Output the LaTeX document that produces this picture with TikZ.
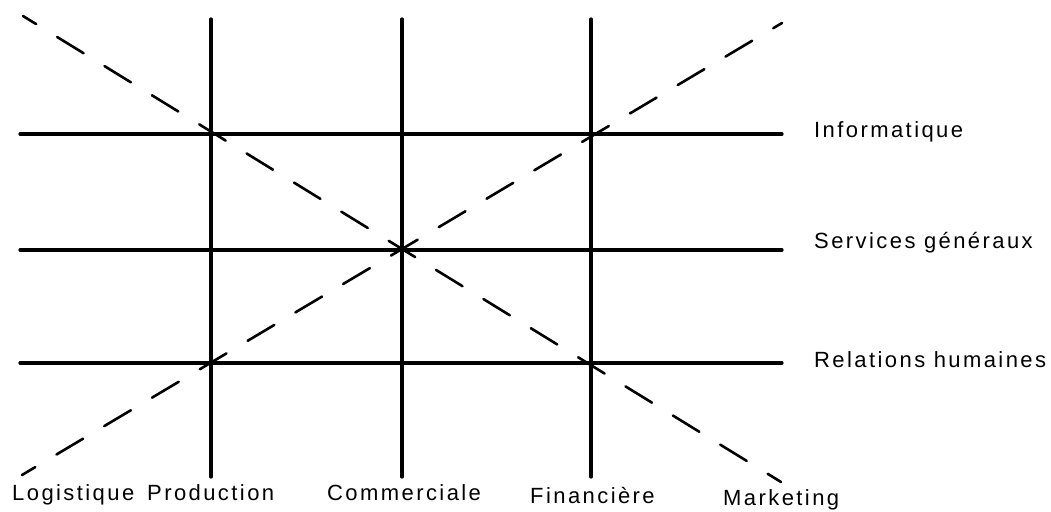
\documentclass[tikz,border=0pt]{standalone}
\usepackage{fontspec}
\setmainfont{Liberation Sans}[LetterSpace=11]
\usepackage{tikz}
\usetikzlibrary{calc}

\begin{document}
\begin{tikzpicture}[x=1pt, y=-1pt, line cap=round, line join=round,
  gridline/.style={line width=3.2pt},
  diagline/.style={line width=2.6pt, dash pattern=on 31pt off 24.6pt, dash phase=15.5pt},
  lab/.style={font=\fontsize{22}{26}\selectfont, inner sep=0pt}]

  \useasboundingbox (0,0) rectangle (1051,511);

  \def\xL{20}    % left end of the rows
  \def\xR{782}   % right end of the rows
  \def\yT{19}    % top of the columns
  \def\yB{477}   % bottom of the columns

  % Key points
  \coordinate (C) at (402,249);
  \coordinate (dA) at (23,16);    % falling diagonal
  \coordinate (dB) at (781,482);
  \coordinate (aA) at (22,475);   % rising diagonal
  \coordinate (aB) at (782,23);

  % Rows (left to right)
  \foreach \y/\name in {134/info, 250/serv, 363/rh} {
    \coordinate (\name-w) at (\xL,\y);
    \coordinate (\name-e) at (\xR,\y);
    \draw[gridline] (\name-w) -- (\name-e);
  }

  % Columns (top to bottom)
  \foreach \x/\name in {211/prod, 402/comm, 591/fin} {
    \coordinate (\name-n) at (\x,\yT);
    \coordinate (\name-s) at (\x,\yB);
    \draw[gridline] (\name-n) -- (\name-s);
  }

  % Diagonals (dashed, crossing at C)
  \draw[diagline] (dA) -- (C) -- (dB);
  \draw[diagline] (aA) -- (C) -- (aB);

  % Row labels
  \node[lab, anchor=base west] (l-info) at (814,137) {Informatique};
  \node[lab, anchor=base west] (l-serv) at (814,248) {Services généraux};
  \node[lab, anchor=base west] (l-rh)   at (814,367) {Relations humaines};

  % Column labels
  \node[lab, anchor=base west] (l-log)  at (12,500)  {Logistique};
  \node[lab, anchor=base west] (l-prod) at (147,500) {Production};
  \node[lab, anchor=base west] (l-comm) at (327,500) {Commerciale};
  \node[lab, anchor=base west] (l-fin)  at (530,503) {Financière};
  \node[lab, anchor=base west] (l-mkt)  at (723,505) {Marketing};

\end{tikzpicture}
\end{document}
